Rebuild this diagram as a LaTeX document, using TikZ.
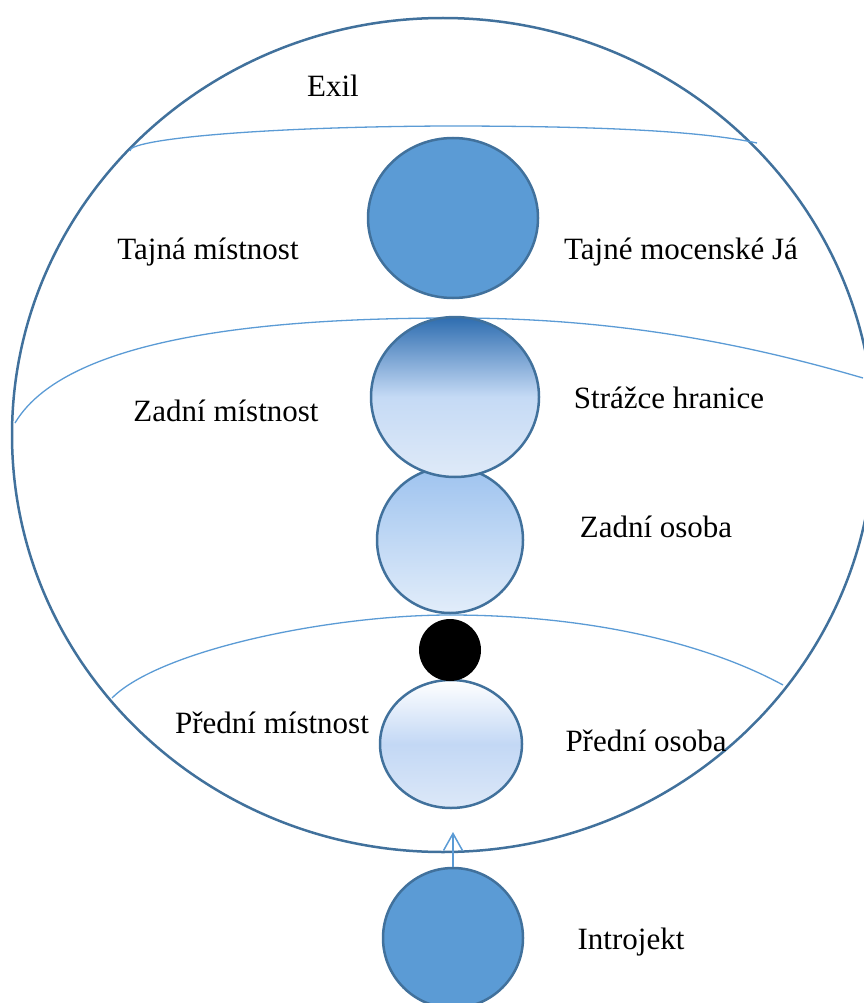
\documentclass[tikz,border=0pt]{standalone}
\usepackage{fontspec}
\setmainfont{Liberation Serif}
\usepackage{xcolor}
\usetikzlibrary{shapes.geometric, arrows.meta, positioning}

\definecolor{rim}{HTML}{41719C}
\definecolor{arc}{HTML}{5B9BD5}
\definecolor{plna}{HTML}{5B9BD5}
\definecolor{zadnitop}{HTML}{9EC3EF}
\definecolor{zadnibot}{HTML}{E2EDFA}
\definecolor{strazcetop}{HTML}{2E6DB0}
\definecolor{strazcemid}{HTML}{C5DAF5}
\definecolor{strazcebot}{HTML}{DFEAF8}
\definecolor{prednimid}{HTML}{C3D8F5}
\definecolor{prednibot}{HTML}{DCE8F8}

\begin{document}
\begin{tikzpicture}[
    x=1pt, y=-1pt,
    % Define simple, standard styles
    koule/.style={ellipse, draw=rim, line width=2.5pt, inner sep=0pt},
    hranice/.style={draw=arc, line width=1.3pt},
    popis/.style={font=\fontsize{31}{37}\selectfont, anchor=base, inner sep=0pt},
    arrow/.style={draw=arc, line width=1.5pt, -{Straight Barb[length=17pt, width=19pt]}}
]
\useasboundingbox (0,0) rectangle (863,1003);

% 1. The outer world
\node[koule, minimum width=862pt, minimum height=834pt] (svet) at (443,435) {};

% 2. The borders between the rooms
\draw[hranice] (130,151) .. controls (127,140) and (250,127) .. (445,126)
    .. controls (600,126) and (700,131) .. (757,143);
\draw[hranice] (15,423) .. controls (70,330) and (300,318) .. (455,318)
    .. controls (620,318) and (750,345) .. (863,378);
\draw[hranice] (112,698) .. controls (160,650) and (330,615) .. (450,615)
    .. controls (580,615) and (700,640) .. (783,685);

% 3. The persons
\node[koule, minimum width=146pt, minimum height=146pt,
      top color=zadnitop, bottom color=zadnibot] (zadni) at (450,540) {};
\node[koule, minimum width=168pt, minimum height=160pt,
      top color=strazcetop, bottom color=strazcebot, middle color=strazcemid] (strazce) at (455,397) {};
\node[koule, minimum width=170pt, minimum height=160pt, fill=plna] (mocja) at (453,218) {};
\node[koule, minimum width=142pt, minimum height=128pt,
      top color=white, bottom color=prednibot, middle color=prednimid] (predni) at (451,744) {};
\node[circle, fill=black, minimum size=62pt, inner sep=0pt] (tecka) at (450,650) {};
\node[koule, minimum width=140pt, minimum height=140pt, fill=plna] (introjekt) at (453,938) {};

% Draw the connecting arrow
\coordinate (vstup) at (453,832);
\draw[arrow] (introjekt) -- (vstup);

% 4. Labels
\node[popis] (exil) at (333,97) {Exil};
\node[popis] (tajna) at (208,259) {Tajná místnost};
\node[popis] (tajne) at (681,259) {Tajné mocenské Já};
\node[popis] (zadnim) at (226,421) {Zadní místnost};
\node[popis] (strazcel) at (669,408) {Strážce hranice};
\node[popis] (zadnio) at (656,537) {Zadní osoba};
\node[popis] (prednim) at (272,733) {Přední místnost};
\node[popis] (prednio) at (646,751) {Přední osoba};
\node[popis] (introl) at (631,949) {Introjekt};

\end{tikzpicture}
\end{document}
